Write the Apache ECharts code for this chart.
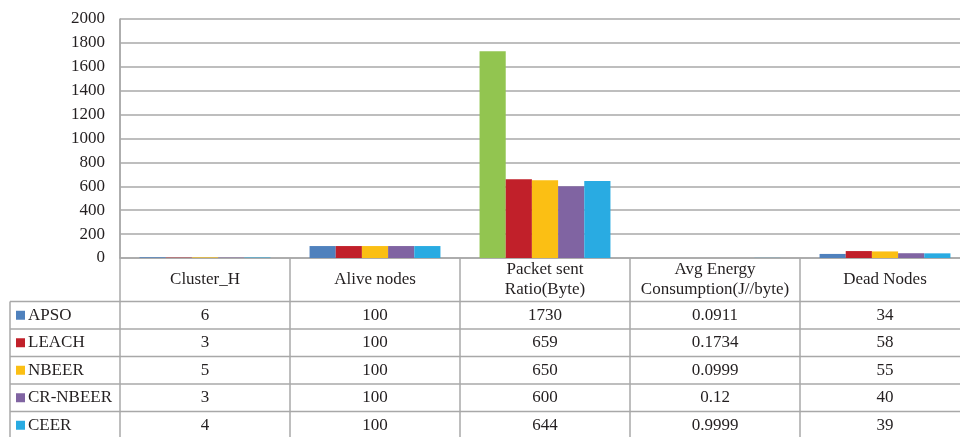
<!DOCTYPE html>
<html>
<head>
<meta charset="utf-8">
<script src="https://cdn.jsdelivr.net/npm/echarts@6/dist/echarts.min.js"></script>
<style>
  html, body { margin: 0; padding: 0; background: #fff; }
  #chart { width: 960px; height: 437px; }
</style>
</head>
<body>
<div id="chart"></div>
<script>
// Chart data: one column per metric, one row per protocol
const categories = ['Cluster_H', 'Alive nodes', 'Packet sent\nRatio(Byte)', 'Avg Energy\nConsumption(J//byte)', 'Dead Nodes'];
const seriesNames = ['APSO', 'LEACH', 'NBEER', 'CR-NBEER', 'CEER'];
const apso = [6, 100, 1730, 0.0911, 34];
const leach = [3, 100, 659, 0.1734, 58];
const nbeer = [5, 100, 650, 0.0999, 55];
const crNbeer = [3, 100, 600, 0.12, 40];
const ceer = [4, 100, 644, 0.9999, 39];
const yTicks = [0, 200, 400, 600, 800, 1000, 1200, 1400, 1600, 1800, 2000];

const values = [apso, leach, nbeer, crNbeer, ceer];
const colors = ['#4f81bd', '#c1202a', '#fbbf14', '#8064a2', '#29abe2'];
const greenBar = '#92c550'; // APSO bar in "Packet sent" column is drawn green
const gridColor = '#a8a8a8';
const textColor = '#231f20';
const font = 'Liberation Serif';
const fs = 17;

const chartDom = document.getElementById('chart');
const myChart = echarts.init(chartDom);

const option = {
  animation: false,
  backgroundColor: '#fff',
  grid: { left: 120, top: 19, right: -10, bottom: 179, outerBoundsMode: 'none', containLabel: false },
  xAxis: {
    type: 'category',
    data: categories,
    axisLine: { lineStyle: { color: gridColor, width: 1.5 } },
    axisTick: { show: false },
    axisLabel: {
      interval: 0,
      margin: 22,
      verticalAlign: 'middle',
      fontFamily: font,
      fontSize: fs,
      lineHeight: 20,
      color: textColor
    }
  },
  yAxis: {
    type: 'value',
    min: yTicks[0],
    max: yTicks[yTicks.length - 1],
    interval: 200,
    axisLine: { show: true, lineStyle: { color: gridColor, width: 1.5 } },
    axisTick: { show: false },
    axisLabel: { fontFamily: font, fontSize: fs, color: textColor, margin: 15, formatter: v => String(v) },
    splitLine: { lineStyle: { color: gridColor, width: 1.5 } }
  },
  series: seriesNames.map((name, s) => ({
    name,
    type: 'bar',
    barGap: '0%',
    barCategoryGap: '23%',
    itemStyle: { color: colors[s] },
    data: values[s].map((v, i) => (s === 0 && i === 2) ? { value: v, itemStyle: { color: greenBar } } : v)
  }))
};

myChart.setOption(option);

// Data table under the axis, positioned from the axis scales
const c0 = myChart.convertToPixel({ xAxisIndex: 0 }, 0);
const c1 = myChart.convertToPixel({ xAxisIndex: 0 }, 1);
const band = c1 - c0;
const y0 = myChart.convertToPixel({ yAxisIndex: 0 }, 0);
const yTop = myChart.convertToPixel({ yAxisIndex: 0 }, yTicks[yTicks.length - 1]);
const xLeft = c0 - band / 2;
const xRight = xLeft + band * categories.length;
const tableLeft = 10;
const headerH = 43.5;
const rowH = 27.5;
const rowsTop = y0 + headerH;
const bottom = rowsTop + rowH * seriesNames.length + 2;

const line = (x1, y1, x2, y2) => ({
  type: 'line',
  shape: { x1, y1, x2, y2 },
  style: { stroke: gridColor, lineWidth: 1.5 },
  z: 10
});

const elements = [];
// vertical lines
elements.push(line(tableLeft, rowsTop, tableLeft, bottom));
elements.push(line(xLeft, yTop, xLeft, bottom));
for (let i = 1; i <= categories.length; i++) {
  const x = xLeft + band * i;
  elements.push(line(x, y0, x, bottom));
}
// horizontal lines
for (let r = 0; r <= seriesNames.length; r++) {
  const y = rowsTop + rowH * r;
  elements.push(line(tableLeft, y, xRight, y));
}
// rows
seriesNames.forEach((name, s) => {
  const yc = rowsTop + rowH * s + rowH / 2;
  elements.push({
    type: 'rect',
    shape: { x: 16, y: yc - 4.5, width: 9, height: 9 },
    style: { fill: colors[s] },
    z: 10
  });
  elements.push({
    type: 'text',
    x: 28, y: yc,
    style: { text: name, font: fs + 'px "' + font + '"', fill: textColor, verticalAlign: 'middle', align: 'left' },
    z: 10
  });
  values[s].forEach((v, i) => {
    elements.push({
      type: 'text',
      x: myChart.convertToPixel({ xAxisIndex: 0 }, i), y: yc,
      style: { text: String(v), font: fs + 'px "' + font + '"', fill: textColor, verticalAlign: 'middle', align: 'center' },
      z: 10
    });
  });
});

myChart.setOption({ graphic: { elements } });
</script>
</body>
</html>
